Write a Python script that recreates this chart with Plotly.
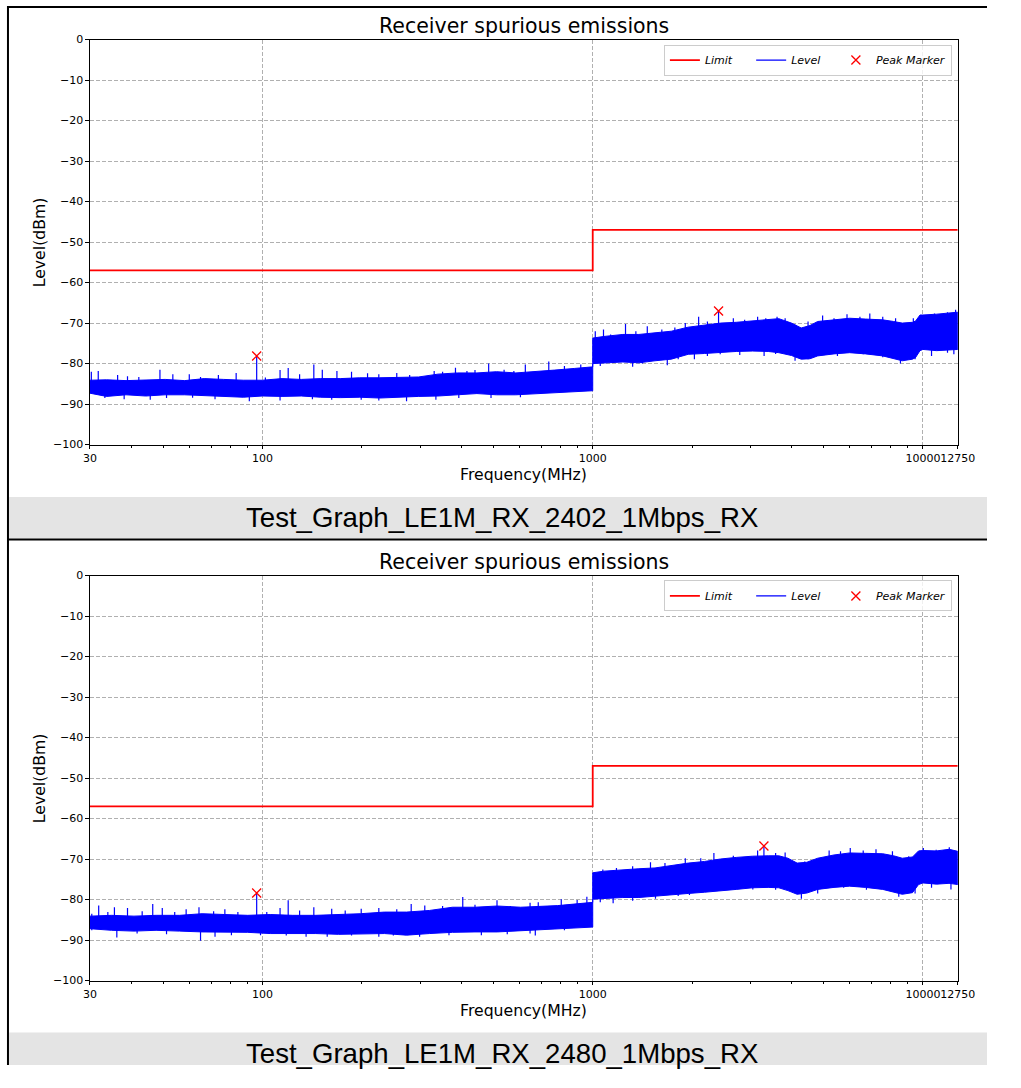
import numpy as np
import plotly.graph_objects as go

# ---------------- data ----------------
TITLE = "Receiver spurious emissions"
CAPTIONS = ["Test_Graph_LE1M_RX_2402_1Mbps_RX", "Test_Graph_LE1M_RX_2480_1Mbps_RX"]

x_tickvals = [30, 100, 1000, 10000, 12750]
x_ticktext = ["30", "100", "1000", "10000", "12750"]
x_minor = [40, 50, 60, 70, 80, 90, 200, 300, 400, 500, 600, 700, 800, 900,
           2000, 3000, 4000, 5000, 6000, 7000, 8000, 9000]

limit_freq = [30, 1000, 1000, 12750]
limit_level = [-57, -57, -47, -47]

# measured noise floor envelope (MHz, dBm) -- 2402 channel
band1_freq = [30, 33.7, 38.6, 44.3, 50.7, 58.1, 66.6, 76.3, 87.4, 100, 114.6, 131, 150, 172,
              197, 226, 259, 297, 340, 389, 446, 511, 585, 670, 767, 879, 1000,
              1000, 1080, 1234, 1380, 1544, 1730, 1946, 2180, 2436, 2720, 3048, 3400, 3660,
              4000, 4280, 4550, 4800, 5380, 6000, 6700, 7560, 8150, 8660, 9300, 9500, 9800,
              10000, 11000, 12750]
band1_top = [-84.1, -84.0, -84.2, -84.1, -83.9, -84.2, -83.7, -83.9, -84.1, -84.1, -83.7, -83.9,
             -83.7, -83.7, -83.5, -83.5, -83.4, -83.3, -82.6, -82.3, -82.3, -82.0, -82.3, -82.0,
             -81.6, -81.2, -80.8,
             -73.7, -73.3, -72.8, -72.8, -72.4, -72.0, -71.0, -70.4, -70.0, -69.8, -69.4, -69.2,
             -68.9, -70.0, -71.2, -70.6, -69.6, -69.2, -68.8, -69.0, -69.2, -69.6, -70.0, -69.8,
             -69.5, -68.0, -68.0, -67.8, -67.3]
band1_bottom = [-87.3, -88.1, -87.7, -88.0, -87.7, -87.7, -88.0, -88.1, -88.3, -88.0, -88.1, -88.0,
                -88.3, -88.4, -88.3, -88.5, -88.3, -88.1, -88.0, -87.7, -87.4, -87.7, -87.7, -87.5,
                -87.2, -86.9, -86.7,
                -80.0, -79.8, -79.6, -79.8, -79.3, -78.9, -77.7, -77.5, -77.3, -77.0, -76.9, -77.0,
                -77.3, -78.0, -78.9, -78.8, -78.1, -77.6, -77.3, -77.6, -78.1, -78.7, -79.3, -78.9,
                -78.5, -76.8, -76.5, -76.8, -76.5]
spike1_freq = [30.3, 31.8, 36.4, 39.0, 42.2, 48.9, 53.5, 60.0, 64.9, 73.5, 83.2, 96, 102, 113,
               119.6, 129.5, 143, 151.7, 168, 186, 208, 225, 255, 279, 331, 351, 384, 416, 440,
               484, 539, 577, 625, 670, 736, 821, 920,
               33.3, 38.1, 45.7, 51.2, 61.4, 71.8, 91.2, 113, 141.6, 162, 199, 225, 273, 335, 393,
               492, 604,
               1018, 1078, 1133, 1257, 1351, 1463, 1619, 1773, 1907, 2093, 2225, 2405, 2666, 2885,
               3158, 3343, 3616, 3826, 4100, 4489, 4969, 5380, 5890, 6446, 6905, 7557, 8265, 9354,
               10130, 10840, 11870, 12560,
               1054, 1321, 1414, 1682, 1815, 2032, 2225, 2433, 2788, 3304, 3580, 4100, 4489, 5510,
               6595, 7557, 8550, 9469, 10620, 11870, 12410]
spike1_level = [-82.0, -81.8, -82.8, -83.1, -83.3, -81.5, -82.6, -82.6, -83.3, -82.8, -82.3, -78.1,
                -83.4, -81.6, -81.1, -82.6, -80.2, -81.5, -81.8, -82.0, -82.4, -82.6, -82.3, -82.8,
                -81.8, -82.0, -81.0, -81.8, -81.6, -80.0, -81.5, -81.8, -80.2, -82.0, -79.5, -80.6,
                -80.2,
                -88.5, -88.8, -88.9, -88.5, -88.4, -88.8, -89.3, -89.1, -88.8, -88.9, -88.9, -89.1,
                -89.3, -88.9, -88.5, -88.5, -88.3,
                -72.0, -71.6, -72.8, -70.2, -72.0, -70.8, -71.6, -71.1, -70.0, -68.4, -69.6, -67.2,
                -68.8, -69.2, -68.4, -68.8, -68.4, -68.8, -70.4, -69.6, -68.1, -68.8, -67.8, -68.4,
                -67.6, -68.4, -68.8, -68.8, -68.0, -67.6, -67.3, -66.7,
                -80.6, -80.8, -80.0, -80.4, -78.9, -78.9, -78.1, -77.7, -77.9, -78.1, -77.6, -79.3,
                -78.9, -78.1, -77.7, -78.4, -80.0, -78.9, -78.1, -77.3, -77.7]
peak1_freq = [96, 2405]
peak1_level = [-78.1, -67.0]

# measured noise floor envelope (MHz, dBm) -- 2480 channel
band2_freq = [30, 34.9, 40.8, 47.6, 56.1, 65.6, 76.8, 90.2, 105.5, 123.5, 145, 170, 198, 234,
              273, 320, 376, 440, 514, 605, 783, 1000,
              1000, 1080, 1234, 1380, 1544, 1730, 1946, 2180, 2436, 2720, 3048, 3400, 3660, 3900,
              4160, 4450, 4800, 5380, 6000, 6700, 7560, 8150, 8660, 9300, 9700, 10000, 11000,
              12000, 12750]
band2_top = [-84.1, -83.9, -84.1, -83.9, -83.9, -83.5, -83.7, -83.9, -83.7, -83.9, -83.9, -83.7,
             -83.5, -83.1, -83.1, -82.7, -81.9, -81.9, -81.6, -81.9, -81.5, -80.7,
             -73.4, -73.0, -72.6, -72.4, -72.2, -71.6, -71.0, -70.6, -70.0, -69.6, -69.3, -69.2,
             -69.2, -69.8, -71.0, -70.8, -69.8, -69.0, -68.5, -68.6, -68.7, -69.2, -69.8, -69.5,
             -68.0, -67.9, -68.0, -67.6, -68.1]
band2_bottom = [-87.2, -87.6, -87.8, -87.6, -87.8, -88.0, -88.1, -88.1, -88.4, -88.4, -88.4, -88.6,
                -88.6, -88.4, -88.8, -88.4, -88.1, -88.0, -88.0, -87.8, -87.2, -86.8,
                -79.9, -79.7, -79.5, -79.5, -79.1, -78.8, -78.5, -78.2, -77.9, -77.5, -77.1, -77.0,
                -77.1, -77.8, -78.7, -78.4, -77.5, -77.0, -76.7, -77.0, -77.5, -78.2, -78.7, -78.3,
                -76.3, -75.9, -76.2, -76.0, -76.3]
spike2_freq = [30.4, 31.9, 34.0, 35.6, 39.0, 43.2, 46.5, 49.7, 54.2, 58.7, 64.2, 71.1, 76.9, 84.2,
               96, 103, 113, 119.6, 129.5, 143, 162, 178, 199, 225, 255, 282, 310, 351, 404, 440,
               513, 563, 646, 684, 803, 897, 960,
               30.4, 36.2, 41.7, 51.2, 64.9, 71.8, 80.5, 98.6, 118, 135.5, 157, 186, 225, 249, 299,
               367, 460, 551, 646, 670, 821,
               1018, 1073, 1180, 1321, 1496, 1655, 1907, 2124, 2328, 2666, 3158, 3300, 3580, 3826,
               4386, 5200, 5630, 6025, 6595, 7210, 8086, 9059, 10030, 10970, 12020,
               1054, 1153, 1321, 1549, 1815, 1963, 2225, 2547, 3054, 3580, 4285, 4801, 5755, 6745,
               8451, 9469, 10620, 12160]
spike2_level = [-83.5, -81.5, -83.1, -81.9, -82.1, -82.9, -81.1, -82.1, -83.1, -82.4, -81.9, -82.9,
                -82.4, -83.1, -78.4, -83.1, -82.1, -80.2, -82.7, -81.9, -82.3, -82.7, -82.3, -82.1,
                -82.4, -81.1, -81.5, -81.6, -79.4, -81.3, -80.2, -81.6, -80.8, -80.7, -79.9, -80.1,
                -79.3,
                -87.6, -89.4, -88.4, -88.6, -90.2, -89.2, -88.8, -88.8, -88.9, -89.2, -89.2, -88.9,
                -89.2, -88.9, -89.2, -88.8, -88.8, -88.6, -88.4, -88.9, -87.6,
                -73.4, -72.6, -72.2, -71.8, -70.8, -71.0, -69.8, -69.8, -68.5, -69.2, -67.9, -66.8,
                -68.5, -68.4, -70.6, -67.9, -68.1, -67.3, -67.9, -67.6, -68.1, -69.3, -67.3, -67.7,
                -67.1,
                -80.7, -80.9, -80.3, -79.8, -79.1, -78.9, -78.1, -77.6, -77.5, -77.6, -79.8, -78.5,
                -77.1, -77.6, -79.3, -78.5, -77.1, -77.5]
peak2_freq = [96, 3300]
peak2_level = [-78.4, -66.8]

# ---------------- layout geometry ----------------
# The page body keeps its default 8 px margin, so the figure is sized to fill the
# remaining window area and all positions below are page pixels minus that margin.
PAGE_W, PAGE_H, BODY_MARGIN = 1021, 1088, 8
W, H = PAGE_W - 2 * BODY_MARGIN, PAGE_H - 2 * BODY_MARGIN


def px(xp):
    return (xp - BODY_MARGIN) / W


def py(yp):
    return 1 - (yp - BODY_MARGIN) / H


panels = [
    dict(top=42.0, bottom=452.0, title_y=28, xlab_y=482, cap=(505, 547), cap_y=526,
         band=(band1_freq, band1_top, band1_bottom), spikes=(spike1_freq, spike1_level),
         peaks=(peak1_freq, peak1_level)),
    dict(top=584.5, bottom=994.5, title_y=571, xlab_y=1025, cap=(1047, 1088), cap_y=1068,
         band=(band2_freq, band2_top, band2_bottom), spikes=(spike2_freq, spike2_level),
         peaks=(peak2_freq, peak2_level)),
]
PLOT_L, PLOT_R = 93, 983
BLUE, RED = "#0000ff", "#ff0000"
FONT = "DejaVu Sans"
NB = "\u00a0"

fig = go.Figure()
annotations, shapes = [], []

for i, p in enumerate(panels):
    n = "" if i == 0 else str(i + 1)
    xa, ya = "x" + n, "y" + n
    leg = "legend" + n
    bf, bt, bb = p["band"]

    # limit line
    fig.add_trace(go.Scatter(x=limit_freq, y=limit_level, mode="lines", name="Limit" + NB * 4,
                             line=dict(color=RED, width=1.8), xaxis=xa, yaxis=ya, legend=leg,
                             hoverinfo="skip"))
    # noise floor band
    fig.add_trace(go.Scatter(x=list(bf) + list(bf)[::-1], y=list(bt) + list(bb)[::-1],
                             mode="lines", fill="toself", fillcolor=BLUE,
                             line=dict(color=BLUE, width=1), showlegend=False,
                             xaxis=xa, yaxis=ya, hoverinfo="skip"))
    # individual spikes rising out of / falling below the floor
    sf, sl = p["spikes"]
    logf = np.log10(np.array(bf, dtype=float))
    mid = (np.array(bt) + np.array(bb)) / 2
    sx, sy = [], []
    for f, lv in zip(sf, sl):
        base = float(np.interp(np.log10(f), logf, mid))
        sx += [f, f, None]
        sy += [base, lv, None]
    fig.add_trace(go.Scatter(x=sx, y=sy, mode="lines", name="Level" + NB * 3,
                             line=dict(color=BLUE, width=1.2), xaxis=xa, yaxis=ya, legend=leg,
                             hoverinfo="skip"))
    # peak markers
    pf, pl = p["peaks"]
    fig.add_trace(go.Scatter(x=pf, y=pl, mode="markers", name="Peak Marker",
                             marker=dict(symbol="x-thin", size=9, color=RED,
                                         line=dict(color=RED, width=1.3)),
                             xaxis=xa, yaxis=ya, legend=leg))

    ydom = [py(p["bottom"]), py(p["top"])]
    axis_common = dict(showline=True, linecolor="black", linewidth=1, mirror=True,
                       ticks="outside", ticklen=3.5, tickcolor="black", tickwidth=1,
                       showgrid=True, gridcolor="#b0b0b0", griddash="4px,2px", gridwidth=0.8,
                       zeroline=False, tickangle=0,
                       tickfont=dict(family=FONT, size=11, color="black"))
    fig.update_layout(**{
        "xaxis" + n: dict(axis_common, type="log", range=[np.log10(30), np.log10(12750)],
                          domain=[px(PLOT_L), px(PLOT_R)], anchor=ya,
                          tickmode="array", tickvals=x_tickvals, ticktext=x_ticktext,
                          minor=dict(tickmode="array", tickvals=x_minor, ticks="outside",
                                     ticklen=2, tickcolor="black", showgrid=False)),
        "yaxis" + n: dict(axis_common, range=[-100, 0], domain=ydom, anchor=xa,
                          tickmode="linear", tick0=0, dtick=10),
        leg: dict(orientation="h", x=px(977), y=py(p["top"] + 5), xanchor="right",
                  yanchor="top", bgcolor="rgba(255,255,255,0.8)", bordercolor="#cccccc",
                  borderwidth=1, font=dict(family=FONT, size=11, color="black", style="italic"),
                  tracegroupgap=0),
    })

    # title and axis labels
    annotations.append(dict(text=TITLE, x=px((PLOT_L + PLOT_R) / 2), y=py(p["title_y"]),
                            xref="paper", yref="paper", showarrow=False, xanchor="center",
                            yanchor="middle", font=dict(family=FONT, size=20.5, color="black")))
    annotations.append(dict(text="Frequency(MHz)", x=px((PLOT_L + PLOT_R) / 2), y=py(p["xlab_y"]),
                            xref="paper", yref="paper", showarrow=False, xanchor="center",
                            yanchor="middle", font=dict(family=FONT, size=15.7, color="black")))
    annotations.append(dict(text="Level(dBm)", x=px(41), y=py((p["top"] + p["bottom"]) / 2),
                            xref="paper", yref="paper", showarrow=False, textangle=-90,
                            xanchor="center", yanchor="middle",
                            font=dict(family=FONT, size=15.7, color="black")))
    # caption strip
    c0, c1 = p["cap"]
    shapes.append(dict(type="rect", xref="paper", yref="paper", x0=px(9), x1=1,
                       y0=max(py(c1), 0), y1=py(c0), fillcolor="#e4e4e4", line=dict(width=0),
                       layer="below"))
    annotations.append(dict(text=CAPTIONS[i], x=px(516), y=py(p["cap_y"]), xref="paper",
                            yref="paper", showarrow=False, xanchor="center", yanchor="middle",
                            font=dict(family="Liberation Sans", size=27.6, color="black")))

# table-style frame lines
shapes += [
    dict(type="line", xref="paper", yref="paper", x0=px(9), x1=px(9), y0=0, y1=1,
         line=dict(color="black", width=2)),
    dict(type="line", xref="paper", yref="paper", x0=0, x1=1, y0=py(9), y1=py(9),
         line=dict(color="black", width=2)),
    dict(type="line", xref="paper", yref="paper", x0=0, x1=1, y0=py(548), y1=py(548),
         line=dict(color="black", width=2)),
]

fig.update_layout(width=W, height=H, autosize=False, margin=dict(l=0, r=0, t=0, b=0),
                  paper_bgcolor="white", plot_bgcolor="white",
                  annotations=annotations, shapes=shapes, hovermode=False)

fig.write_html("out.html", config={"responsive": False})
